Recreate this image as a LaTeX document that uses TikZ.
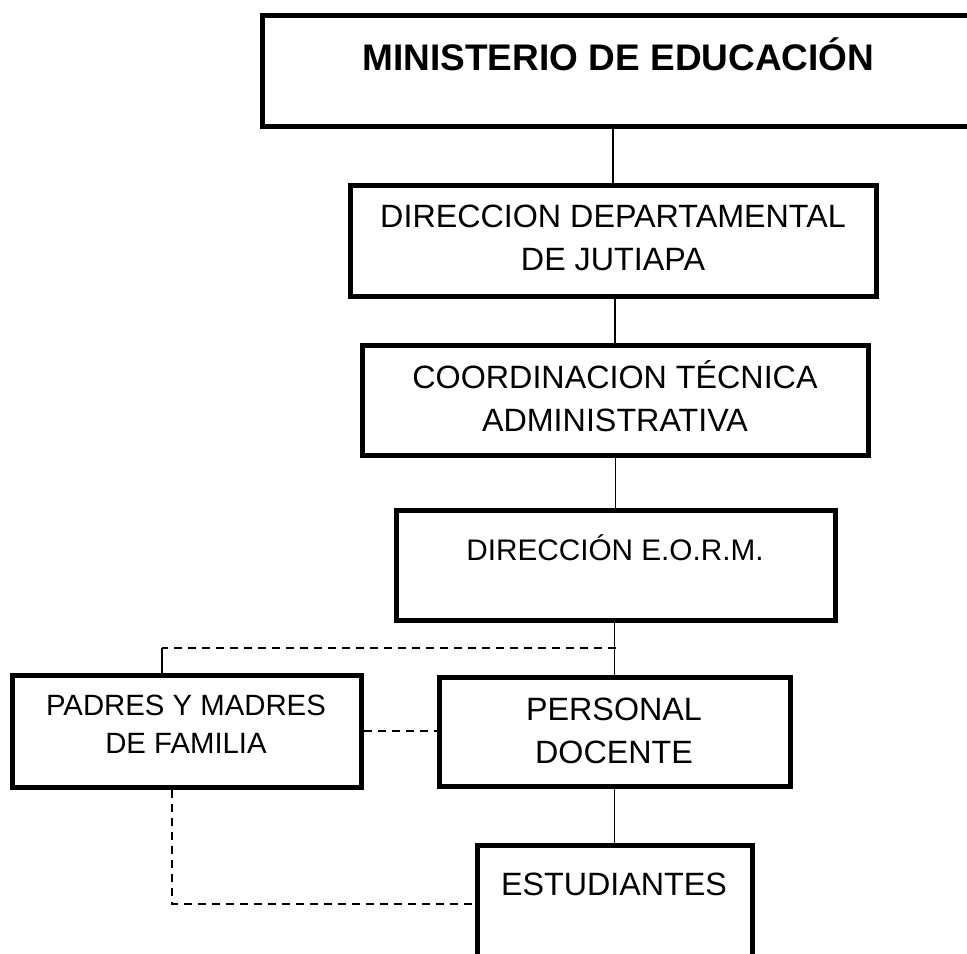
\documentclass[tikz,border=0pt]{standalone}
\usepackage{fontspec}
\setmainfont{Liberation Sans}
\usetikzlibrary{positioning}
\tikzset{
  caja/.style={draw, rectangle, line width=3.75pt, inner sep=0pt},
  texto/.style={font=\fontsize{24.2}{32.25}\selectfont, align=center, anchor=base, inner sep=0pt},
  linea/.style={line width=1.1pt},
  punteada/.style={line width=1.1pt, dash pattern=on 6pt off 4.5pt},
}
\begin{document}
\begin{tikzpicture}[x=0.75pt,y=-0.75pt]
\useasboundingbox (0,0) rectangle (967,953);
\clip (0,0) rectangle (967,953);
% cajas
\node[caja, minimum width=553.5pt, minimum height=82.9pt] (min) at (631,70.75) {};
\node[caja, minimum width=394.5pt, minimum height=83.25pt] (dep) at (613,240.5) {};
\node[caja, minimum width=379.5pt, minimum height=82.5pt] (coord) at (615,400) {};
\node[caja, minimum width=329.25pt, minimum height=82.5pt] (dir) at (615.5,565) {};
\node[caja, minimum width=261.75pt, minimum height=84pt] (padres) at (186.5,731) {};
\node[caja, minimum width=263.25pt, minimum height=81.75pt] (docente) at (614.5,731.5) {};
\node[caja, minimum width=206.25pt, minimum height=120pt] (est) at (614.5,925) {};
% textos
\node[texto, font=\bfseries\fontsize{27.75}{32}\selectfont] (tmin) at (618.5,70) {MINISTERIO DE EDUCACIÓN};
\node[texto] (tdep) at (613,270) {DIRECCION DEPARTAMENTAL\\DE JUTIAPA};
\node[texto] (tcoord) at (615,431) {COORDINACION TÉCNICA\\ADMINISTRATIVA};
\node[texto, font=\fontsize{22.3}{30}\selectfont] (tdir) at (615,560) {DIRECCIÓN E.O.R.M.};
\node[texto, font=\fontsize{22}{28.5}\selectfont] (tpadres) at (186,753) {PADRES Y MADRES\\DE FAMILIA};
\node[texto] (tdocente) at (614,763) {PERSONAL\\DOCENTE};
\node[texto] (test) at (614,895) {ESTUDIANTES};
% conectores
\coordinate (rama) at (616,648);
\coordinate (pp) at (162,648);
\coordinate (esq) at (172,904);
\draw[linea] (dep.north) -- (dep.north |- min.south);
\draw[linea] (coord.north) -- (coord.north |- dep.south);
\draw[linea] (dir.north) -- (dir.north |- coord.south);
\draw[linea] (docente.north) -- (docente.north |- dir.south);
\draw[linea] (est.north) -- (est.north |- docente.south);
\draw[punteada] (rama) -- (pp);
\draw[linea] (pp) -- (pp |- padres.north);
\draw[punteada] (padres.east) -- (docente.west |- padres.east);
\draw[punteada] (esq |- padres.south) -- (esq) -- (esq -| est.west);
\end{tikzpicture}
\end{document}
